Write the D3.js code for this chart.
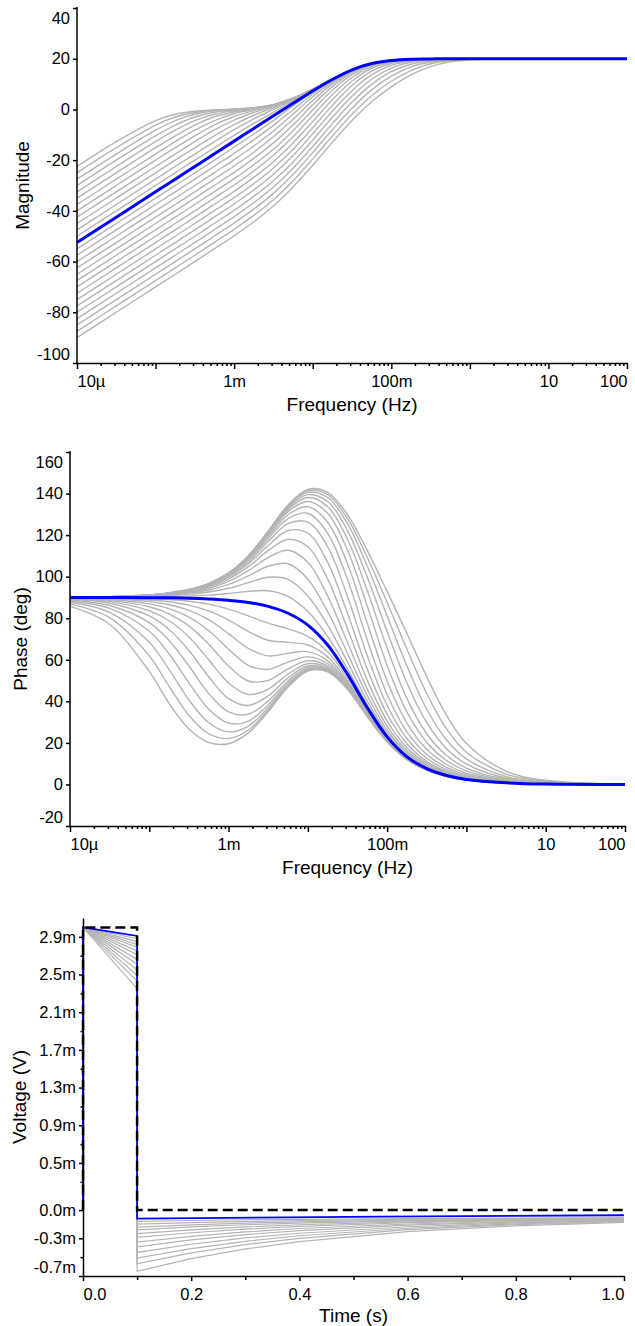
<!DOCTYPE html>
<html>
<head>
<meta charset="utf-8">
<script src="https://cdn.jsdelivr.net/npm/d3@7"></script>
<style>
  body { margin: 0; background: #fff; }
  svg { display: block; font-family: "Liberation Sans", Arial, sans-serif; }
  .axis path, .axis line { stroke: #000; stroke-width: 1.5px; }
  .axis text { font-size: 16.5px; fill: #000; font-family: "Liberation Sans", Arial, sans-serif; }
  .axis-label { font-size: 19px; fill: #000; }
</style>
</head>
<body>
<div id="chart"></div>
<script>
// --- frequency grid (Hz) shared by both Bode plots ---
const freqHz = [1e-5, 3.162e-5, 1e-4, 1.778e-4, 3.162e-4, 5.623e-4, 1e-3, 1.778e-3, 3.162e-3, 5.623e-3,
  1e-2, 1.778e-2, 3.162e-2, 5.623e-2, 0.1, 0.1778, 0.3162, 0.5623, 1, 3.162, 10, 100];

// magnitude (dB), one row per swept curve
const magGray = [
  [-22.5, -12.7, -4.4, -1.9, -0.7, -0.2, 0.2, 0.7, 1.9, 4.4, 8.0, 12.0, 15.6, 18.1, 19.3, 19.8, 19.9, 20.0, 20.0, 20, 20, 20],
  [-25.0, -15.1, -6.2, -3.0, -1.2, -0.3, 0.1, 0.7, 1.9, 4.4, 8.0, 12.0, 15.6, 18.1, 19.3, 19.8, 19.9, 20.0, 20.0, 20, 20, 20],
  [-27.5, -17.6, -8.2, -4.4, -1.9, -0.6, 0.0, 0.6, 1.9, 4.4, 8.0, 12.0, 15.6, 18.1, 19.3, 19.8, 19.9, 20.0, 20.0, 20, 20, 20],
  [-30.0, -20.0, -10.4, -6.2, -3.0, -1.1, -0.2, 0.6, 1.9, 4.4, 8.0, 12.0, 15.6, 18.1, 19.3, 19.8, 19.9, 20.0, 20.0, 20, 20, 20],
  [-32.5, -22.5, -12.7, -8.2, -4.4, -1.9, -0.5, 0.5, 1.8, 4.3, 8.0, 12.0, 15.6, 18.1, 19.3, 19.8, 19.9, 20.0, 20.0, 20, 20, 20],
  [-35.0, -25.0, -15.1, -10.4, -6.2, -2.9, -1.0, 0.3, 1.8, 4.3, 8.0, 12.0, 15.6, 18.1, 19.3, 19.8, 19.9, 20.0, 20.0, 20, 20, 20],
  [-37.5, -27.5, -17.6, -12.7, -8.2, -4.4, -1.7, 0.0, 1.7, 4.3, 8.0, 12.0, 15.6, 18.1, 19.3, 19.8, 19.9, 20.0, 20.0, 20, 20, 20],
  [-40.0, -30.0, -20.0, -15.1, -10.4, -6.1, -2.8, -0.5, 1.5, 4.2, 7.9, 12.0, 15.6, 18.1, 19.3, 19.8, 19.9, 20.0, 20.0, 20, 20, 20],
  [-42.5, -32.5, -22.5, -17.6, -12.7, -8.1, -4.2, -1.2, 1.2, 4.1, 7.9, 12.0, 15.6, 18.1, 19.3, 19.8, 19.9, 20.0, 20.0, 20, 20, 20],
  [-45.0, -35.0, -25.0, -20.0, -15.1, -10.3, -6.0, -2.3, 0.7, 4.0, 7.8, 12.0, 15.6, 18.1, 19.3, 19.8, 19.9, 20.0, 20.0, 20, 20, 20],
  [-47.5, -37.5, -27.5, -22.5, -17.6, -12.7, -8.0, -3.7, 0.0, 3.7, 7.7, 12.0, 15.6, 18.1, 19.3, 19.8, 19.9, 20.0, 20.0, 20, 20, 20],
  [-50.0, -40.0, -30.0, -25.0, -20.0, -15.1, -10.2, -5.5, -1.1, 3.2, 7.6, 11.9, 15.6, 18.1, 19.3, 19.8, 19.9, 20.0, 20.0, 20, 20, 20],
  [-55.0, -45.0, -35.0, -30.0, -25.0, -20.0, -14.9, -9.7, -4.3, 1.4, 6.8, 11.6, 15.5, 18.1, 19.3, 19.8, 19.9, 20.0, 20.0, 20, 20, 20],
  [-57.5, -47.5, -37.5, -32.5, -27.5, -22.4, -17.3, -12.0, -6.3, -0.1, 6.0, 11.3, 15.4, 18.0, 19.3, 19.8, 19.9, 20.0, 20.0, 20, 20, 20],
  [-60.0, -50.0, -40.0, -35.0, -30.0, -24.9, -19.8, -14.4, -8.5, -1.8, 5.0, 10.8, 15.2, 18.0, 19.3, 19.8, 19.9, 20.0, 20.0, 20, 20, 20],
  [-62.5, -52.5, -42.5, -37.5, -32.5, -27.4, -22.3, -16.9, -10.8, -3.9, 3.5, 10.1, 14.9, 17.9, 19.2, 19.8, 19.9, 20.0, 20.0, 20, 20, 20],
  [-65.0, -55.0, -45.0, -40.0, -35.0, -29.9, -24.8, -19.3, -13.2, -6.1, 1.8, 9.0, 14.5, 17.7, 19.2, 19.7, 19.9, 20.0, 20.0, 20, 20, 20],
  [-67.5, -57.5, -47.5, -42.5, -37.5, -32.4, -27.3, -21.8, -15.7, -8.4, -0.2, 7.6, 13.7, 17.4, 19.1, 19.7, 19.9, 20.0, 20.0, 20, 20, 20],
  [-70.0, -60.0, -50.0, -45.0, -40.0, -34.9, -29.8, -24.3, -18.1, -10.8, -2.4, 5.8, 12.6, 16.9, 18.9, 19.6, 19.9, 20.0, 20.0, 20, 20, 20],
  [-72.5, -62.5, -52.5, -47.5, -42.5, -37.4, -32.3, -26.8, -20.6, -13.2, -4.8, 3.8, 11.2, 16.2, 18.6, 19.5, 19.8, 20.0, 20.0, 20, 20, 20],
  [-75.0, -65.0, -55.0, -50.0, -45.0, -39.9, -34.8, -29.3, -23.1, -15.7, -7.2, 1.6, 9.4, 15.1, 18.1, 19.4, 19.8, 19.9, 20.0, 20, 20, 20],
  [-77.5, -67.5, -57.5, -52.5, -47.5, -42.4, -37.3, -31.8, -25.6, -18.2, -9.6, -0.7, 7.4, 13.7, 17.4, 19.1, 19.7, 19.9, 20.0, 20, 20, 20],
  [-80.0, -70.0, -60.0, -55.0, -50.0, -44.9, -39.8, -34.3, -28.1, -20.7, -12.1, -3.1, 5.2, 11.9, 16.3, 18.6, 19.5, 19.8, 20.0, 20, 20, 20],
  [-82.5, -72.5, -62.5, -57.5, -52.5, -47.4, -42.3, -36.8, -30.6, -23.2, -14.6, -5.6, 2.9, 9.9, 14.9, 17.8, 19.2, 19.7, 19.9, 20, 20, 20],
  [-85.0, -75.0, -65.0, -60.0, -55.0, -49.9, -44.8, -39.3, -33.1, -25.6, -17.0, -8.0, 0.5, 7.7, 13.1, 16.8, 18.7, 19.6, 19.9, 20, 20, 20],
  [-87.5, -77.5, -67.5, -62.5, -57.5, -52.4, -47.3, -41.8, -35.6, -28.1, -19.5, -10.5, -1.9, 5.4, 11.1, 15.3, 18.0, 19.3, 19.8, 20.0, 20, 20],
  [-90.0, -80.0, -70.0, -65.0, -60.0, -54.9, -49.8, -44.3, -38.1, -30.6, -22.0, -13.0, -4.4, 3.0, 8.9, 13.6, 16.9, 18.8, 19.6, 20.0, 20, 20]
];
const magBlue = [-52.5, -42.5, -32.5, -27.5, -22.5, -17.5, -12.5, -7.5, -2.5, 2.4, 7.3, 11.8, 15.6, 18.1, 19.3, 19.8, 19.9, 20.0, 20.0, 20, 20, 20];

// phase (deg), same curve order as magGray
const phaseGray = [
  [85.8, 77.1, 54.4, 39.0, 26.7, 20.2, 19.6, 24.8, 35.0, 46.9, 54.6, 54.2, 45.8, 32.7, 20.5, 12.0, 6.9, 3.9, 2.2, 0.7, 0.2, 0],
  [86.9, 80.3, 61.9, 47.2, 33.2, 24.4, 22.1, 26.2, 35.8, 47.4, 54.8, 54.4, 45.9, 32.8, 20.6, 12.0, 6.9, 3.9, 2.2, 0.7, 0.2, 0],
  [87.7, 82.8, 68.4, 55.3, 40.7, 29.7, 25.3, 28.1, 36.9, 48.0, 55.2, 54.6, 46.0, 32.8, 20.6, 12.1, 6.9, 3.9, 2.2, 0.7, 0.2, 0],
  [88.3, 84.7, 73.7, 62.8, 48.9, 36.2, 29.5, 30.5, 38.3, 48.8, 55.6, 54.8, 46.1, 32.9, 20.6, 12.1, 6.9, 3.9, 2.2, 0.7, 0.2, 0],
  [88.8, 86.1, 77.9, 69.3, 57.0, 43.7, 34.9, 33.8, 40.2, 49.8, 56.2, 55.2, 46.3, 33.0, 20.7, 12.1, 6.9, 3.9, 2.2, 0.7, 0.2, 0],
  [89.1, 87.2, 81.1, 74.6, 64.5, 51.8, 41.3, 38.0, 42.7, 51.3, 57.0, 55.6, 46.6, 33.1, 20.8, 12.2, 6.9, 3.9, 2.2, 0.7, 0.2, 0],
  [89.4, 88.0, 83.6, 78.8, 71.0, 60.0, 48.8, 43.3, 45.9, 53.1, 58.1, 56.2, 46.9, 33.3, 20.9, 12.2, 7.0, 3.9, 2.2, 0.7, 0.2, 0],
  [89.6, 88.6, 85.5, 82.1, 76.3, 67.5, 57.0, 49.8, 50.1, 55.6, 59.5, 57.0, 47.4, 33.6, 21.0, 12.3, 7.0, 3.9, 2.2, 0.7, 0.2, 0],
  [89.7, 89.0, 86.9, 84.6, 80.5, 74.0, 65.1, 57.3, 55.4, 58.9, 61.4, 58.1, 48.0, 33.9, 21.2, 12.4, 7.1, 3.9, 2.2, 0.7, 0.2, 0],
  [89.8, 89.4, 88.0, 86.5, 83.8, 79.3, 72.6, 65.5, 61.9, 63.1, 63.9, 59.5, 48.8, 34.4, 21.5, 12.6, 7.2, 4.0, 2.2, 0.7, 0.2, 0],
  [89.9, 89.6, 88.8, 87.9, 86.3, 83.5, 79.1, 73.6, 69.4, 68.4, 67.1, 61.4, 49.8, 35.0, 21.8, 12.7, 7.3, 4.1, 2.3, 0.7, 0.2, 0],
  [89.9, 89.8, 89.4, 89.0, 88.2, 86.8, 84.4, 81.1, 77.6, 74.9, 71.3, 63.9, 51.3, 35.8, 22.3, 13.0, 7.4, 4.2, 2.4, 0.7, 0.2, 0],
  [90.0, 90.1, 90.2, 90.4, 90.6, 91.1, 91.9, 92.9, 93.2, 90.5, 83.2, 71.3, 55.6, 38.3, 23.7, 13.8, 7.9, 4.4, 2.5, 0.8, 0.3, 0],
  [90.0, 90.2, 90.5, 90.8, 91.5, 92.6, 94.4, 97.1, 99.7, 98.7, 90.7, 76.7, 58.9, 40.2, 24.8, 14.4, 8.2, 4.6, 2.6, 0.8, 0.3, 0],
  [90.1, 90.2, 90.7, 91.2, 92.1, 93.6, 96.3, 100.4, 105.0, 106.2, 98.8, 83.2, 63.1, 42.7, 26.2, 15.2, 8.7, 4.9, 2.7, 0.9, 0.3, 0],
  [90.1, 90.3, 90.8, 91.4, 92.5, 94.4, 97.7, 102.9, 109.2, 112.7, 106.9, 90.7, 68.4, 45.9, 28.1, 16.3, 9.3, 5.2, 2.9, 0.9, 0.3, 0],
  [90.1, 90.3, 90.9, 91.6, 92.8, 95.0, 98.8, 104.8, 112.5, 118.0, 114.4, 98.8, 74.9, 50.1, 30.5, 17.7, 10.1, 5.7, 3.2, 1.0, 0.3, 0],
  [90.1, 90.3, 91.0, 91.7, 93.1, 95.5, 99.6, 106.2, 115.0, 122.2, 120.9, 106.9, 82.4, 55.4, 33.8, 19.6, 11.1, 6.3, 3.5, 1.1, 0.4, 0],
  [90.1, 90.3, 91.0, 91.9, 93.3, 95.8, 100.2, 107.2, 116.9, 125.5, 126.2, 114.4, 90.5, 61.9, 38.0, 22.1, 12.6, 7.1, 4.0, 1.3, 0.4, 0],
  [90.1, 90.4, 91.1, 91.9, 93.4, 96.1, 100.6, 108.1, 118.3, 127.9, 130.5, 120.9, 98.7, 69.4, 43.3, 25.3, 14.4, 8.2, 4.6, 1.4, 0.5, 0],
  [90.1, 90.4, 91.1, 92.0, 93.5, 96.3, 101.0, 108.7, 119.4, 129.8, 133.7, 126.2, 106.2, 77.6, 49.8, 29.5, 16.9, 9.6, 5.4, 1.7, 0.5, 0],
  [90.1, 90.4, 91.1, 92.0, 93.6, 96.4, 101.2, 109.1, 120.2, 131.3, 136.2, 130.5, 112.7, 85.7, 57.3, 34.9, 20.2, 11.5, 6.5, 2.0, 0.7, 0.1],
  [90.1, 90.4, 91.2, 92.1, 93.7, 96.5, 101.4, 109.4, 120.8, 132.3, 138.1, 133.7, 118.0, 93.2, 65.5, 41.3, 24.4, 13.9, 7.9, 2.5, 0.8, 0.1],
  [90.1, 90.4, 91.2, 92.1, 93.7, 96.6, 101.6, 109.7, 121.2, 133.1, 139.5, 136.2, 122.2, 99.7, 73.6, 48.8, 29.7, 17.2, 9.8, 3.1, 1.0, 0.1],
  [90.1, 90.4, 91.2, 92.1, 93.8, 96.7, 101.7, 109.9, 121.6, 133.7, 140.6, 138.1, 125.5, 105.0, 81.1, 57.0, 36.2, 21.4, 12.3, 3.9, 1.2, 0.1],
  [90.1, 90.4, 91.2, 92.2, 93.8, 96.7, 101.7, 110.0, 121.8, 134.2, 141.4, 139.5, 127.9, 109.2, 87.6, 65.1, 43.7, 26.7, 15.5, 5.0, 1.6, 0.2],
  [90.1, 90.4, 91.2, 92.2, 93.8, 96.7, 101.8, 110.1, 122.0, 134.5, 142.0, 140.6, 129.8, 112.5, 92.9, 72.6, 51.8, 33.2, 19.7, 6.4, 2.0, 0.2]
];
const phaseBlue = [90.0, 90.0, 89.9, 89.8, 89.6, 89.2, 88.6, 87.6, 85.7, 82.4, 76.7, 67.1, 53.1, 36.9, 22.9, 13.3, 7.6, 4.3, 2.4, 0.8, 0.2, 0.0];

const freqTickVals = [1e-5, 1e-3, 1e-1, 10, 100];
const freqTickLabels = ["10µ", "1m", "100m", "10", "100"];
const magTicks = [40, 20, 0, -20, -40, -60, -80, -100];
const phaseTicks = [160, 140, 120, 100, 80, 60, 40, 20, 0, -20];

// --- transient response (time in s, voltage in mV) ---
const pulseTime = [0, 0, 0.1, 0.1, 1.0];
const pulseVolt = [0, 3.0, 3.0, 0, 0];
const stepTime = [0, 0, 0.1, 0.1, 0.2, 0.3, 0.4, 0.6, 0.8, 1.0];
const voltGray = [
  [0, 3.0, 2.88, -0.12, -0.111, -0.103, -0.098, -0.090, -0.086, -0.084],
  [0, 3.0, 2.85, -0.15, -0.134, -0.121, -0.111, -0.098, -0.091, -0.086],
  [0, 3.0, 2.82, -0.18, -0.157, -0.139, -0.125, -0.106, -0.095, -0.089],
  [0, 3.0, 2.79, -0.21, -0.179, -0.156, -0.138, -0.114, -0.100, -0.092],
  [0, 3.0, 2.75, -0.25, -0.210, -0.179, -0.156, -0.125, -0.106, -0.095],
  [0, 3.0, 2.71, -0.29, -0.241, -0.203, -0.174, -0.135, -0.112, -0.099],
  [0, 3.0, 2.66, -0.34, -0.279, -0.232, -0.196, -0.148, -0.120, -0.103],
  [0, 3.0, 2.61, -0.39, -0.317, -0.261, -0.219, -0.161, -0.127, -0.108],
  [0, 3.0, 2.55, -0.45, -0.363, -0.296, -0.246, -0.177, -0.137, -0.113],
  [0, 3.0, 2.49, -0.51, -0.409, -0.332, -0.273, -0.193, -0.146, -0.119],
  [0, 3.0, 2.43, -0.57, -0.455, -0.367, -0.300, -0.208, -0.155, -0.124],
  [0, 3.0, 2.35, -0.65, -0.516, -0.413, -0.335, -0.229, -0.167, -0.131]
];
const blueTime = [0, 0, 0.1, 0.1, 0.55, 1.0];
const voltBlue = [0, 3.0, 2.91, -0.09, -0.07, -0.055];

const voltTicks = [2.9, 2.5, 2.1, 1.7, 1.3, 0.9, 0.5, 0.0, -0.3, -0.7];
const voltMinor = [2.7, 2.3, 1.9, 1.5, 1.1, 0.7, 0.3, -0.5];
const timeTicks = [0, 0.2, 0.4, 0.6, 0.8, 1.0];

const grayColor = "#b4b4b4";
const blueColor = "#0000ff";

const svg = d3.select("#chart").append("svg")
    .attr("width", 635)
    .attr("height", 1326);

// keep end labels inside the plot box like the original tool does
function clampYLabels(g, y, top, bottom) {
    g.selectAll(".tick text").attr("y", d => {
        const p = y(d);
        if (p < top + 10) return top + 10 - p;
        if (p > bottom - 9) return bottom - 9 - p;
        return 0;
    });
}
function anchorEnds(g, first, last) {
    g.selectAll(".tick text")
        .attr("text-anchor", d => Math.abs(d - first) < 1e-9 ? "start" : Math.abs(d - last) < 1e-9 ? "end" : "middle");
}

// --- Bode panel ---
function drawBode(box, yDomain, yTicks, grayRows, blueRow, yLabel, blueWidth) {
    const x = d3.scaleLog().domain([1e-5, 100]).range([box.left, box.right]);
    const y = d3.scaleLinear().domain(yDomain).range([box.bottom, box.top]);
    const g = svg.append("g");

    const line = d3.line()
        .x((d, i) => x(freqHz[i]))
        .y(d => y(d))
        .curve(d3.curveCatmullRom.alpha(0.5));

    g.append("g").selectAll("path")
        .data(grayRows)
        .join("path")
        .attr("d", line)
        .attr("fill", "none")
        .attr("stroke", grayColor)
        .attr("stroke-width", 1.4);

    g.append("path")
        .attr("d", line(blueRow))
        .attr("fill", "none")
        .attr("stroke", blueColor)
        .attr("stroke-width", blueWidth);

    // log axis: decades get longer ticks, only a few get labels
    const isDecade = d => Math.abs(Math.log10(d) - Math.round(Math.log10(d))) < 1e-6;
    const xAxis = d3.axisBottom(x)
        .tickValues(x.ticks())
        .tickSize(3).tickSizeOuter(0).tickPadding(9)
        .tickFormat(d => {
            const i = freqTickVals.findIndex(v => Math.abs(v / d - 1) < 1e-6);
            return i >= 0 ? freqTickLabels[i] : "";
        });
    const gx = g.append("g").attr("class", "axis")
        .attr("transform", `translate(0,${box.bottom})`)
        .call(xAxis);
    gx.selectAll(".tick line").attr("y2", d => isDecade(d) ? 6 : 3);
    gx.selectAll(".tick text").attr("text-anchor", d => {
        if (Math.abs(d / 1e-5 - 1) < 1e-6) return "start";
        if (Math.abs(d / 100 - 1) < 1e-6) return "end";
        return "middle";
    });

    const gy = g.append("g").attr("class", "axis")
        .attr("transform", `translate(${box.left},0)`)
        .call(d3.axisLeft(y).tickValues(yTicks).tickSize(4).tickSizeOuter(0).tickPadding(3)
            .tickFormat(d => String(d)));
    gy.select(".domain").attr("d", `M0,${box.bottom}V${box.top - 1}`);
    clampYLabels(gy, y, box.top, box.bottom);

    g.append("text").attr("class", "axis-label")
        .attr("transform", `translate(${box.left - box.ylabOff},${(box.top + box.bottom) / 2}) rotate(-90)`)
        .attr("text-anchor", "middle")
        .text(yLabel);
    g.append("text").attr("class", "axis-label")
        .attr("x", (box.left + box.right) / 2)
        .attr("y", box.bottom + 47.5)
        .attr("text-anchor", "middle")
        .text("Frequency (Hz)");
}

drawBode({left: 77, right: 627, top: 8, bottom: 363, ylabOff: 48.5},
    [-100, 40], magTicks, magGray, magBlue, "Magnitude", 3);
drawBode({left: 70, right: 625, top: 452, bottom: 826, ylabOff: 43.5},
    [-20, 160], phaseTicks, phaseGray, phaseBlue, "Phase (deg)", 3);

// --- Transient panel ---
(function drawTransient() {
    const box = {left: 83, right: 624, top: 918, bottom: 1276};
    const x = d3.scaleLinear().domain([0, 1]).range([box.left, box.right]);
    const y = d3.scaleLinear().domain([-0.7, 3.1]).range([box.bottom, box.top]);
    const g = svg.append("g");

    const line = times => d3.line()
        .x((d, i) => x(times[i]))
        .y(d => y(d));

    g.append("g").selectAll("path")
        .data(voltGray)
        .join("path")
        .attr("d", line(stepTime))
        .attr("fill", "none")
        .attr("stroke", grayColor)
        .attr("stroke-width", 1.2);

    g.append("path")
        .attr("d", line(blueTime)(voltBlue))
        .attr("fill", "none")
        .attr("stroke", blueColor)
        .attr("stroke-width", 1.8);

    g.append("path")
        .attr("d", line(pulseTime)(pulseVolt))
        .attr("fill", "none")
        .attr("stroke", "#000")
        .attr("stroke-width", 2.5)
        .attr("stroke-dasharray", "10,5");

    const minorT = d3.range(1, 10, 2).map(k => k / 10);
    const gx = g.append("g").attr("class", "axis")
        .attr("transform", `translate(0,${box.bottom})`)
        .call(d3.axisBottom(x)
            .tickValues(timeTicks.concat(minorT))
            .tickSize(5).tickSizeOuter(0).tickPadding(7)
            .tickFormat(d => timeTicks.some(t => Math.abs(t - d) < 1e-9) ? d3.format(".1f")(d) : ""));
    gx.selectAll(".tick line").attr("y2", d => timeTicks.some(t => Math.abs(t - d) < 1e-9) ? 5 : 4);
    anchorEnds(gx, 0, 1);

    const gy = g.append("g").attr("class", "axis")
        .attr("transform", `translate(${box.left},0)`)
        .call(d3.axisLeft(y)
            .tickValues(voltTicks.concat(voltMinor))
            .tickSize(4).tickSizeOuter(0).tickPadding(3)
            .tickFormat(d => voltTicks.includes(d) ? d.toFixed(1) + "m" : ""));
    gy.selectAll(".tick line").attr("x2", d => voltTicks.includes(d) ? -4 : -2.5);
    clampYLabels(gy, y, box.top, box.bottom);

    g.append("text").attr("class", "axis-label")
        .attr("transform", `translate(25.5,${(box.top + box.bottom) / 2}) rotate(-90)`)
        .attr("text-anchor", "middle")
        .text("Voltage (V)");
    g.append("text").attr("class", "axis-label")
        .attr("x", (box.left + box.right) / 2)
        .attr("y", box.bottom + 45.5)
        .attr("text-anchor", "middle")
        .text("Time (s)");
})();
</script>
</body>
</html>
